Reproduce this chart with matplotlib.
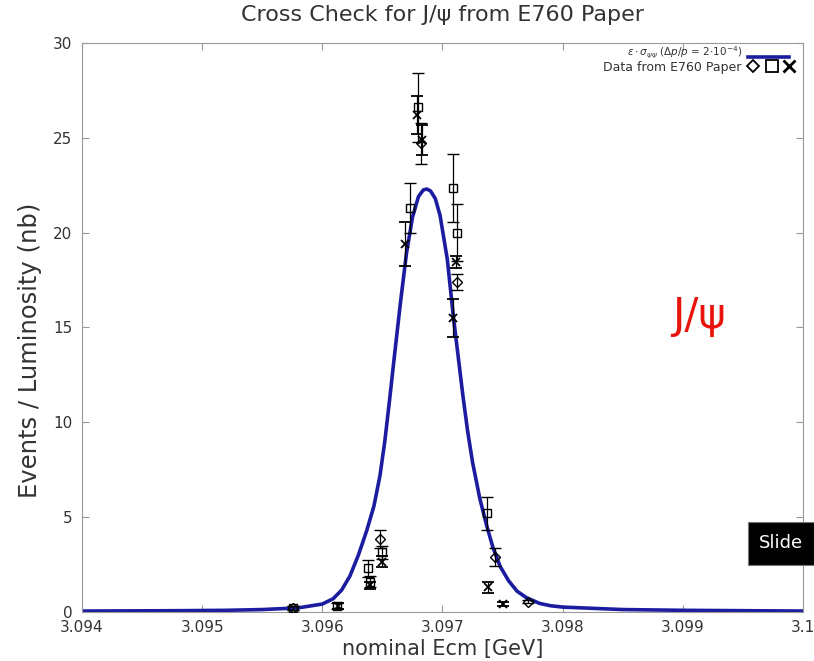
import matplotlib
matplotlib.use("Agg")
import matplotlib.pyplot as plt
from matplotlib.patches import Rectangle

# theory curve
curve_x = [3.0940, 3.0948, 3.0952, 3.0955, 3.0958, 3.0960, 3.09609, 3.09616,
           3.09623, 3.09630, 3.09637, 3.09643, 3.09648, 3.09652, 3.09656,
           3.09660, 3.09665, 3.09670, 3.09675, 3.09680, 3.09684, 3.09687,
           3.09690, 3.09694, 3.09698, 3.09704, 3.09709, 3.09713, 3.09717,
           3.09721, 3.09725, 3.09731, 3.09737, 3.09742, 3.09748, 3.09755,
           3.09762, 3.09770, 3.09781, 3.0979, 3.0980, 3.0985, 3.0990,
           3.0995, 3.1000]
curve_y = [0.05, 0.07, 0.09, 0.13, 0.22, 0.42, 0.70, 1.15,
           1.90, 3.00, 4.30, 5.60, 7.20, 9.00, 11.2,
           13.5, 16.3, 18.9, 20.8, 21.9, 22.25, 22.3,
           22.2, 21.8, 20.9, 18.6, 15.6, 13.5, 11.4,
           9.5, 7.9, 6.0, 4.5, 3.4, 2.4, 1.65,
           1.10, 0.75, 0.45, 0.33, 0.26, 0.13, 0.09,
           0.07, 0.05]

# E760 data points
dia_x = [3.09576, 3.09648, 3.09682, 3.09712, 3.09744, 3.09771]
dia_y = [0.20, 3.85, 24.7, 17.4, 2.9, 0.55]
dia_err = [0.10, 0.45, 1.1, 0.4, 0.5, 0.10]

sq_x = [3.09576, 3.09612, 3.09638, 3.09640, 3.09650, 3.09673, 3.09680,
        3.09709, 3.09712, 3.09737]
sq_y = [0.20, 0.30, 2.3, 1.6, 3.15, 21.3, 26.6, 22.35, 20.0, 5.2]
sq_err = [0.10, 0.15, 0.45, 0.30, 0.35, 1.3, 1.8, 1.8, 1.5, 0.85]

cr_x = [3.09613, 3.09640, 3.09650, 3.09669, 3.09679, 3.09683, 3.09711,
        3.09709, 3.09738, 3.09750]
cr_y = [0.30, 1.4, 2.65, 19.4, 26.2, 24.9, 18.45, 15.5, 1.3, 0.42]
cr_err = [0.15, 0.20, 0.30, 1.15, 1.0, 0.8, 0.3, 1.0, 0.3, 0.10]

xticks = [3.094, 3.095, 3.096, 3.097, 3.098, 3.099, 3.1]
xtick_labels = ["3.094", "3.095", "3.096", "3.097", "3.098", "3.099", "3.1"]
yticks = [0, 5, 10, 15, 20, 25, 30]

fig = plt.figure(figsize=(8.14, 6.61), dpi=100)
ax = fig.add_axes([0.1007, 0.0741, 0.8858, 0.8609])

ax.plot(curve_x, curve_y, color="#1c1ca0", lw=2.6, zorder=2,
        solid_joinstyle="round")

ebkw = dict(ecolor="black", elinewidth=0.9, capsize=4, capthick=0.9,
            ls="none", zorder=3)
ax.errorbar(dia_x, dia_y, yerr=dia_err, marker="D", ms=5, mfc="none",
            mec="black", mew=1.0, **ebkw)
ax.errorbar(sq_x, sq_y, yerr=sq_err, marker="s", ms=6, mfc="none",
            mec="black", mew=1.0, **ebkw)
ax.errorbar(cr_x, cr_y, yerr=cr_err, marker="x", ms=6, mec="black",
            mew=1.3, **ebkw)

ax.set_xlim(3.094, 3.1)
ax.set_ylim(0, 30)
ax.set_xticks(xticks)
ax.set_xticklabels(xtick_labels)
ax.set_yticks(yticks)
ax.tick_params(direction="in", top=True, right=True, length=5,
               color="#999999", labelsize=11, labelcolor="#333333")
ax.tick_params(axis="y", pad=7)
ax.tick_params(axis="x", pad=5.5)
for s in ax.spines.values():
    s.set_color("#999999")
    s.set_linewidth(0.8)

ax.set_title("Cross Check for J/\u03c8 from E760 Paper", fontsize=16,
             color="#333333", pad=16)
ax.set_xlabel("nominal Ecm [GeV]", fontsize=15, color="#333333", labelpad=3)
ax.set_ylabel("Events / Luminosity (nb)", fontsize=17.5, color="#333333")
ax.yaxis.set_label_coords(-0.056, 0.46)

# legend in the top right corner
ax.plot([3.09954, 3.09988], [29.25, 29.25], color="#1c1ca0", lw=2.6)
ax.text(3.09949, 29.45,
        r"$\epsilon\cdot\sigma_{\psi\psi}$ ($\Delta p/p$ = 2$\cdot10^{-4}$)",
        fontsize=7.5, ha="right", va="center", color="#333333")
ax.text(3.09949, 28.7, "Data from E760 Paper", fontsize=9, ha="right",
        va="center", color="#333333")
ax.plot([3.09958], [28.8], marker="D", ms=6, mfc="none", mec="black",
        mew=1.3)
ax.plot([3.09974], [28.8], marker="s", ms=8, mfc="none", mec="black",
        mew=1.3)
ax.plot([3.09988], [28.8], marker="x", ms=8, mec="black", mew=2)

ax.text(3.09891, 15.6, "J/\u03c8", color="#e8140c", fontsize=30,
        ha="left", va="center")

fig.patches.append(Rectangle((0.919, 0.1452), 0.081, 0.065,
                             transform=fig.transFigure, facecolor="black",
                             edgecolor="#777777", lw=0.8))
fig.text(0.9595, 0.1778, "Slide", color="white", fontsize=13, ha="center",
         va="center")

fig.savefig("out.png", dpi=100)
